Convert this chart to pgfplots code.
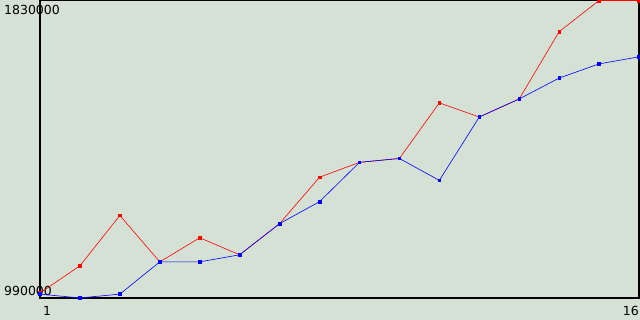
\documentclass[border=0pt]{standalone}
\usepackage{pgfplots}
\pgfplotsset{compat=1.18}
\usepackage{fontspec}
\setmainfont{DejaVu Sans}
\definecolor{bg}{RGB}{212,225,212}
\begin{document}
\begin{tikzpicture}[x=1pt,y=1pt]
\useasboundingbox (0,0) rectangle (640,320);
\fill[bg] (0,0) rectangle (640,320);
\node[anchor=west, inner sep=0pt, font=\fontsize{12.5}{12.5}\selectfont] at (4,310) {1830000};
\node[anchor=west, inner sep=0pt, font=\fontsize{12.5}{12.5}\selectfont] at (4,29) {990000};
\node[anchor=center, inner sep=0pt, font=\fontsize{12.5}{12.5}\selectfont] at (47,9) {1};
\node[anchor=east, inner sep=0pt, font=\fontsize{12.5}{12.5}\selectfont] at (639,9) {16};
\begin{axis}[at={(40pt,22pt)}, anchor=south west, scale only axis,
  width=599pt, height=297.5pt,
  xmin=1, xmax=16, ymin=990000, ymax=1830000,
  xtick=\empty, ytick=\empty,
  axis line style={line width=1.1pt, black},
  clip=false]
\addplot[red, line width=0.6pt, mark=square*, mark size=1.3pt, mark options={solid}] coordinates {
(1,1004000) (2,1081000) (3,1223000) (4,1092000) (5,1160000) (6,1112000)
(7,1200000) (8,1331000) (9,1373000) (10,1384000) (11,1541000) (12,1501000)
(13,1552000) (14,1742000) (15,1830000) (16,1830000)};
\addplot[blue, line width=0.6pt, mark=square*, mark size=1.3pt, mark options={solid}] coordinates {
(1,1001000) (2,990000) (3,1001000) (4,1092000) (5,1092000) (6,1112000)
(7,1200000) (8,1262000) (9,1373000) (10,1384000) (11,1322000) (12,1501000)
(13,1552000) (14,1611000) (15,1651000) (16,1671000)};
\end{axis}
\end{tikzpicture}
\end{document}
